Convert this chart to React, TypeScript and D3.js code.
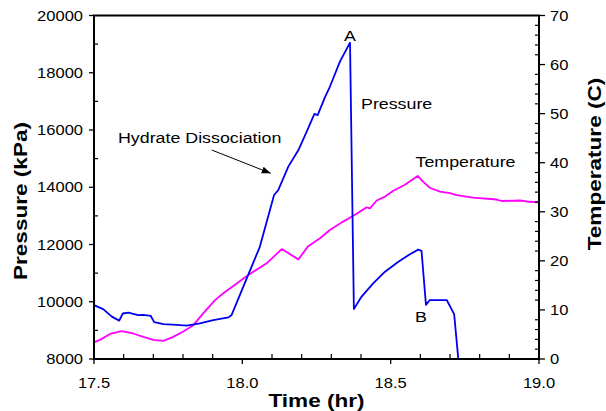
import React from "react";
import * as d3 from "d3";

// pressure trace (hr, kPa)
const pressureTime = [
  17.5, 17.531, 17.56, 17.585, 17.597, 17.616, 17.649, 17.666, 17.691, 17.703,
  17.734, 17.779, 17.812, 17.857, 17.902, 17.953, 17.964, 18.003, 18.059, 18.107,
  18.121, 18.155, 18.189, 18.217, 18.243, 18.254, 18.279, 18.295, 18.329, 18.363,
  18.376, 18.402, 18.441, 18.481, 18.526, 18.565, 18.593, 18.604, 18.619, 18.632,
  18.655, 18.689, 18.714, 18.728,
];
const pressureKPa = [
  9880, 9740, 9480, 9340, 9590, 9620, 9530, 9540, 9510, 9290,
  9220, 9190, 9165, 9245, 9360, 9455, 9540, 10520, 11920, 13730,
  13900, 14720, 15300, 15940, 16560, 16520, 17160, 17510, 18390, 19050,
  9750, 10180, 10640, 11050, 11400, 11660, 11820, 11780, 9890, 10060,
  10060, 10060, 9570, 8000,
];

// temperature trace (hr, C)
const tempTime = [
  17.5, 17.52, 17.554, 17.593, 17.632, 17.666, 17.7, 17.734, 17.767, 17.801,
  17.835, 17.868, 17.908, 17.936, 17.981, 18.02, 18.082, 18.133, 18.189, 18.222,
  18.262, 18.295, 18.34, 18.374, 18.419, 18.43, 18.453, 18.481, 18.509, 18.548,
  18.591, 18.61, 18.632, 18.666, 18.7, 18.722, 18.778, 18.857, 18.874, 18.936,
  18.958, 19.0,
];
const tempC = [
  3.4, 3.9, 5.1, 5.7, 5.2, 4.5, 3.9, 3.7, 4.5, 5.6,
  6.9, 9.3, 12.0, 13.4, 15.4, 17.1, 19.5, 22.4, 20.3, 23.0,
  24.6, 26.3, 28.0, 29.2, 30.9, 30.7, 32.3, 33.1, 34.3, 35.5,
  37.3, 36.1, 34.9, 34.1, 33.8, 33.4, 32.9, 32.5, 32.2, 32.3,
  32.1, 31.9,
];

const xTicks = [17.5, 18.0, 18.5, 19.0];
const pTicks = [8000, 10000, 12000, 14000, 16000, 18000, 20000];
const tTicks = [0, 10, 20, 30, 40, 50, 60, 70];

const W = 606;
const H = 411;
const m = { left: 94, right: 539, top: 15.5, bottom: 359 };
const FONT = "'Liberation Sans', Arial, Helvetica, sans-serif";
const STRETCH = 1.18;

function Txt({ x, y, children, size, anchor = "start", bold = false, rotate = 0, sx = STRETCH, dy = "0" }: any) {
  return (
    <text
      transform={`translate(${x},${y}) rotate(${rotate}) scale(${sx},1)`}
      textAnchor={anchor}
      fontSize={size}
      fontWeight={bold ? "bold" : "normal"}
      fontFamily={FONT}
      dy={dy}
      fill="#000"
    >
      {children}
    </text>
  );
}

export default function App() {
  const x = d3.scaleLinear().domain([17.5, 19.0]).range([m.left, m.right]);
  const yP = d3.scaleLinear().domain([8000, 20000]).range([m.bottom, m.top]);
  const yT = d3.scaleLinear().domain([0, 70]).range([m.bottom, m.top]);

  const pLine = d3.line<number>()
    .x((_, i) => x(pressureTime[i]))
    .y((d) => yP(d))(pressureKPa);
  const tLine = d3.line<number>()
    .x((_, i) => x(tempTime[i]))
    .y((d) => yT(d))(tempC);

  const xMinor = d3.range(17.6, 19.0, 0.1).filter((v) => Math.abs(v * 2 - Math.round(v * 2)) > 0.01);
  const pMinor = d3.range(9000, 20000, 2000);
  const tMinor = d3.range(2, 70, 2).filter((v) => v % 10 !== 0);

  return (
    <svg width={W} height={H} style={{ position: "absolute", left: 0, top: 0, background: "#fff" }}>
      <defs>
        <clipPath id="plot">
          <rect x={m.left} y={m.top} width={m.right - m.left} height={m.bottom - m.top} />
        </clipPath>
        <marker id="arrow" viewBox="0 0 10 10" refX="10" refY="5" markerWidth="9" markerHeight="9" orient="auto" markerUnits="userSpaceOnUse">
          <path d="M0,1 L10,5 L0,9 Z" fill="#000" />
        </marker>
      </defs>

      {/* series */}
      <g clipPath="url(#plot)">
        <path d={tLine ?? ""} fill="none" stroke="#ff00ff" strokeWidth={1.8} strokeLinejoin="round" />
        <path d={pLine ?? ""} fill="none" stroke="#0000f0" strokeWidth={1.8} strokeLinejoin="round" />
      </g>

      {/* frame */}
      <rect x={m.left} y={m.top} width={m.right - m.left} height={m.bottom - m.top} fill="none" stroke="#000" strokeWidth={2} />

      {/* bottom axis */}
      {xTicks.map((t) => (
        <g key={t}>
          <line x1={x(t)} x2={x(t)} y1={m.bottom} y2={m.bottom + 5} stroke="#000" strokeWidth={1.3} />
          <Txt x={x(t)} y={388} size={14} anchor="middle">{t.toFixed(1)}</Txt>
        </g>
      ))}
      {xMinor.map((t) => (
        <line key={t} x1={x(t)} x2={x(t)} y1={m.bottom} y2={m.bottom - 5} stroke="#000" strokeWidth={1.2} />
      ))}

      {/* left axis */}
      {pTicks.map((p) => (
        <g key={p}>
          <line x1={m.left - 5} x2={m.left} y1={yP(p)} y2={yP(p)} stroke="#000" strokeWidth={1.3} />
          <Txt x={83} y={yP(p)} size={14} anchor="end" dy="0.36em">{p}</Txt>
        </g>
      ))}
      {pMinor.map((p) => (
        <line key={p} x1={m.left} x2={m.left + 4} y1={yP(p)} y2={yP(p)} stroke="#000" strokeWidth={1.2} />
      ))}

      {/* right axis */}
      {tTicks.map((t) => (
        <g key={t}>
          <line x1={m.right} x2={m.right + 6} y1={yT(t)} y2={yT(t)} stroke="#000" strokeWidth={1.3} />
          <Txt x={550} y={yT(t)} size={14} dy="0.36em">{t}</Txt>
        </g>
      ))}
      {tMinor.map((t) => (
        <line key={t} x1={m.right - 4} x2={m.right} y1={yT(t)} y2={yT(t)} stroke="#000" strokeWidth={1.2} />
      ))}

      {/* axis titles */}
      <Txt x={316.5} y={406.5} size={18.5} anchor="middle" bold sx={1.22}>Time (hr)</Txt>
      <Txt x={26.5} y={201} size={18.5} anchor="middle" bold rotate={-90} sx={1.22}>Pressure (kPa)</Txt>
      <Txt x={600.5} y={164} size={18.5} anchor="middle" bold rotate={-90} sx={1.22}>Temperature (C)</Txt>

      {/* annotations */}
      <Txt x={350} y={41} size={15.5} anchor="middle" sx={1.15}>A</Txt>
      <Txt x={361} y={109} size={15.5} sx={1.15}>Pressure</Txt>
      <Txt x={118} y={143} size={15.5} sx={1.15}>Hydrate Dissociation</Txt>
      <Txt x={415.5} y={167} size={15.5} sx={1.15}>Temperature</Txt>
      <Txt x={415} y={322} size={15.5} sx={1.15}>B</Txt>
      <line x1={211.7} y1={150} x2={270.7} y2={173.3} stroke="#000" strokeWidth={1} markerEnd="url(#arrow)" />
    </svg>
  );
}
